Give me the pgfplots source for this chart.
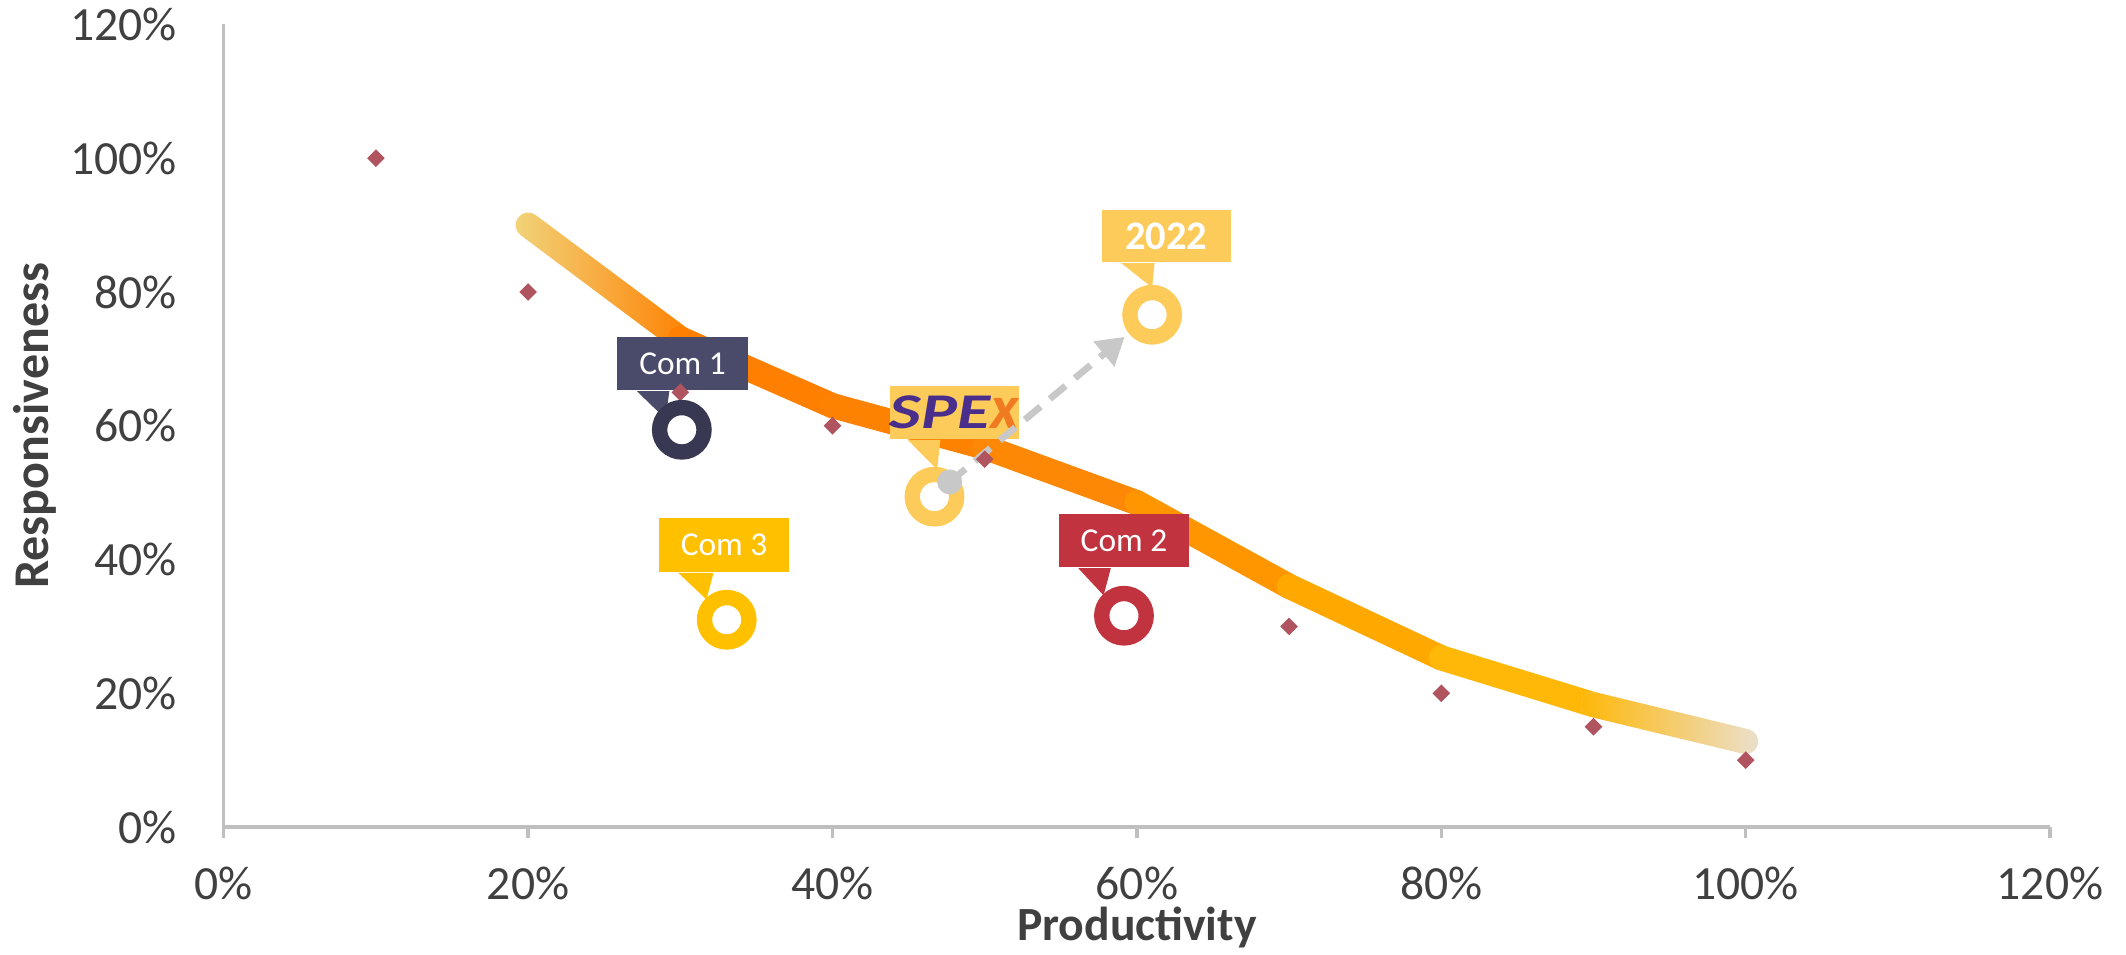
\documentclass[border=0pt]{standalone}
\usepackage{fontspec}
\setmainfont{Carlito}
\usepackage{pgfplots}
\pgfplotsset{compat=1.18}
\usetikzlibrary{arrows.meta,fadings}

\definecolor{axisgray}{RGB}{191,191,191}
\definecolor{labelgray}{RGB}{64,64,64}
\definecolor{dia}{RGB}{176,84,96}
\definecolor{palestart}{RGB}{242,211,122}
\definecolor{paleend}{RGB}{236,224,204}
\definecolor{segB}{RGB}{255,128,0}
\definecolor{segC}{RGB}{254,130,2}
\definecolor{segD}{RGB}{253,136,6}
\definecolor{segE}{RGB}{255,150,0}
\definecolor{segF}{RGB}{255,168,0}
\definecolor{segG}{RGB}{255,184,8}
\definecolor{comone}{RGB}{74,74,106}
\definecolor{comonering}{RGB}{56,56,82}
\definecolor{comtwo}{RGB}{193,52,63}
\definecolor{comthree}{RGB}{255,192,0}
\definecolor{spexy}{RGB}{253,203,90}
\definecolor{spexpurple}{RGB}{74,46,140}
\definecolor{spexorange}{RGB}{240,122,32}
\definecolor{arrowgray}{RGB}{200,200,200}

\begin{document}
\begin{tikzpicture}
\path[use as bounding box] (-16.5mm,-9.36mm) rectangle (140.3mm,61.0mm);
\begin{axis}[
  at={(0,0)}, anchor=origin,
  scale only axis, width=134.7mm, height=59.2mm,
  xmin=0, xmax=120, ymin=0, ymax=120,
  axis lines=left,
  axis line style={-, draw=axisgray, line width=0.25mm},
  xtick={0,20,40,60,80,100,120},
  ytick={0,20,40,60,80,100,120},
  xticklabels={0\%,20\%,40\%,60\%,80\%,100\%,120\%},
  yticklabels={0\%,20\%,40\%,60\%,80\%,100\%,120\%},
  tick align=outside,
  major tick length=0.8mm,
  xtick style={draw=axisgray, line width=0.25mm},
  ytick style={draw=none},
  tick label style={font=\fontsize{10}{12}\selectfont, text=labelgray},
  xticklabel style={anchor=north, inner sep=0pt, yshift=-2.1mm},
  yticklabel style={anchor=east, inner sep=0pt, xshift=-2.6mm},
  xlabel={Productivity},
  ylabel={Responsiveness},
  xlabel style={font=\bfseries\fontsize{10}{12}\selectfont, text=labelgray,
    at={(rel axis cs:0.5,0)}, anchor=base, inner sep=0pt, yshift=-8.4mm},
  ylabel style={font=\bfseries\fontsize{10.5}{12}\selectfont, text=labelgray,
    at={(rel axis cs:0,0.5)}, anchor=base, inner sep=0pt, yshift=12.9mm},
  clip=false,
]
% trend line, one segment per step so the colour can run along it
\addplot[palestart, line width=1.85mm, line cap=round] coordinates {(20,90) (30,73)};
\addplot[segB, line width=1.85mm, line cap=round, path fading=west] coordinates {(20,90) (30,73)};
\addplot[segB, line width=1.85mm, line cap=round] coordinates {(30,73) (40,63)};
\addplot[segC, line width=1.85mm, line cap=round] coordinates {(40,63) (50,56.8)};
\addplot[segD, line width=1.85mm, line cap=round] coordinates {(50,56.8) (60,48.5)};
\addplot[segE, line width=1.85mm, line cap=round] coordinates {(60,48.5) (70,36)};
\addplot[segF, line width=1.85mm, line cap=round] coordinates {(70,36) (80,25.3)};
\addplot[segG, line width=1.85mm, line cap=round] coordinates {(80,25.3) (90,18.3)};
\addplot[paleend, line width=1.85mm, line cap=round] coordinates {(90,18.3) (100,12.8)};
\addplot[segG, line width=1.85mm, line cap=round, path fading=east] coordinates {(90,18.3) (100,12.8)};

% reference points
\addplot[only marks, mark=square*, mark size=0.39mm, color=dia, mark options={rotate=45}]
  coordinates {(10,100) (20,80) (30,65) (40,60) (50,55) (70,30) (80,20) (90,15) (100,10)};

% callout boxes
\node[fill=comone, text=white, minimum width=9.6mm, minimum height=3.95mm, inner sep=0pt,
  font=\fontsize{7}{8}\selectfont] (c1) at ([shift={(0.05mm,4.9mm)}]axis cs:30.1,59.4) {Com 1};
\fill[comone] ([xshift=1.5mm]c1.south west) -- ([xshift=3.9mm]c1.south west)
  -- ([shift={(-1.2mm,0.8mm)}]axis cs:30.1,59.4) -- cycle;

\node[fill=comthree, text=white, minimum width=9.6mm, minimum height=3.95mm, inner sep=0pt,
  font=\fontsize{7}{8}\selectfont] (c3) at ([shift={(-0.2mm,5.5mm)}]axis cs:33.05,31.0) {Com 3};
\fill[comthree] ([xshift=1.5mm]c3.south west) -- ([xshift=4.1mm]c3.south west)
  -- ([shift={(-1.5mm,1.5mm)}]axis cs:33.05,31.0) -- cycle;

\node[fill=comtwo, text=white, minimum width=9.6mm, minimum height=3.95mm, inner sep=0pt,
  font=\fontsize{7}{8}\selectfont] (c2) at ([shift={(0mm,5.55mm)}]axis cs:59.15,31.6) {Com 2};
\fill[comtwo] ([xshift=1.5mm]c2.south west) -- ([xshift=3.9mm]c2.south west)
  -- ([shift={(-1.5mm,1.5mm)}]axis cs:59.15,31.6) -- cycle;

\node[fill=spexy, minimum width=9.4mm, minimum height=3.9mm, inner sep=0pt,
  font=\bfseries\itshape\fontsize{10.5}{11}\selectfont] (cs) at ([shift={(1.45mm,6.2mm)}]axis cs:46.7,49.4)
  {\scalebox{1.35}[1]{\textcolor{spexpurple}{SPE}}\textcolor{spexorange}{\fontsize{13}{13}\selectfont x}};
\fill[spexy] ([xshift=1.4mm]cs.south west) -- ([xshift=3.8mm]cs.south west)
  -- ([shift={(0.2mm,2.0mm)}]axis cs:46.7,49.4) -- cycle;

\node[fill=spexy, text=white, minimum width=9.5mm, minimum height=3.85mm, inner sep=0pt,
  font=\bfseries\fontsize{8.5}{9}\selectfont] (c22) at ([shift={(1.05mm,5.8mm)}]axis cs:61.0,76.6) {2022};
\fill[spexy] ([xshift=1.5mm]c22.south west) -- ([xshift=3.95mm]c22.south west)
  -- ([shift={(0mm,2.0mm)}]axis cs:61.0,76.6) -- cycle;

% rings
\addplot[only marks, mark=*, mark size=1.64mm, mark options={draw=comonering, fill=white, line width=1.13mm}]
  coordinates {(30.1,59.4)};
\addplot[only marks, mark=*, mark size=1.64mm, mark options={draw=comthree, fill=white, line width=1.13mm}]
  coordinates {(33.05,31.0)};
\addplot[only marks, mark=*, mark size=1.64mm, mark options={draw=comtwo, fill=white, line width=1.13mm}]
  coordinates {(59.15,31.6)};
\addplot[only marks, mark=*, mark size=1.64mm, mark options={draw=spexy, fill=white, line width=1.13mm}]
  coordinates {(46.7,49.4) (61.0,76.6)};

% movement arrow
\addplot[arrowgray, line width=0.5mm, dash pattern=on 1.5mm off 0.9mm,
  -{Triangle[length=2.0mm,width=2.3mm]}] coordinates {(47.7,51.6) (59.2,73.3)};
\addplot[only marks, mark=*, mark size=0.85mm, color=arrowgray] coordinates {(47.7,51.6)};
\end{axis}
\end{tikzpicture}
\end{document}
